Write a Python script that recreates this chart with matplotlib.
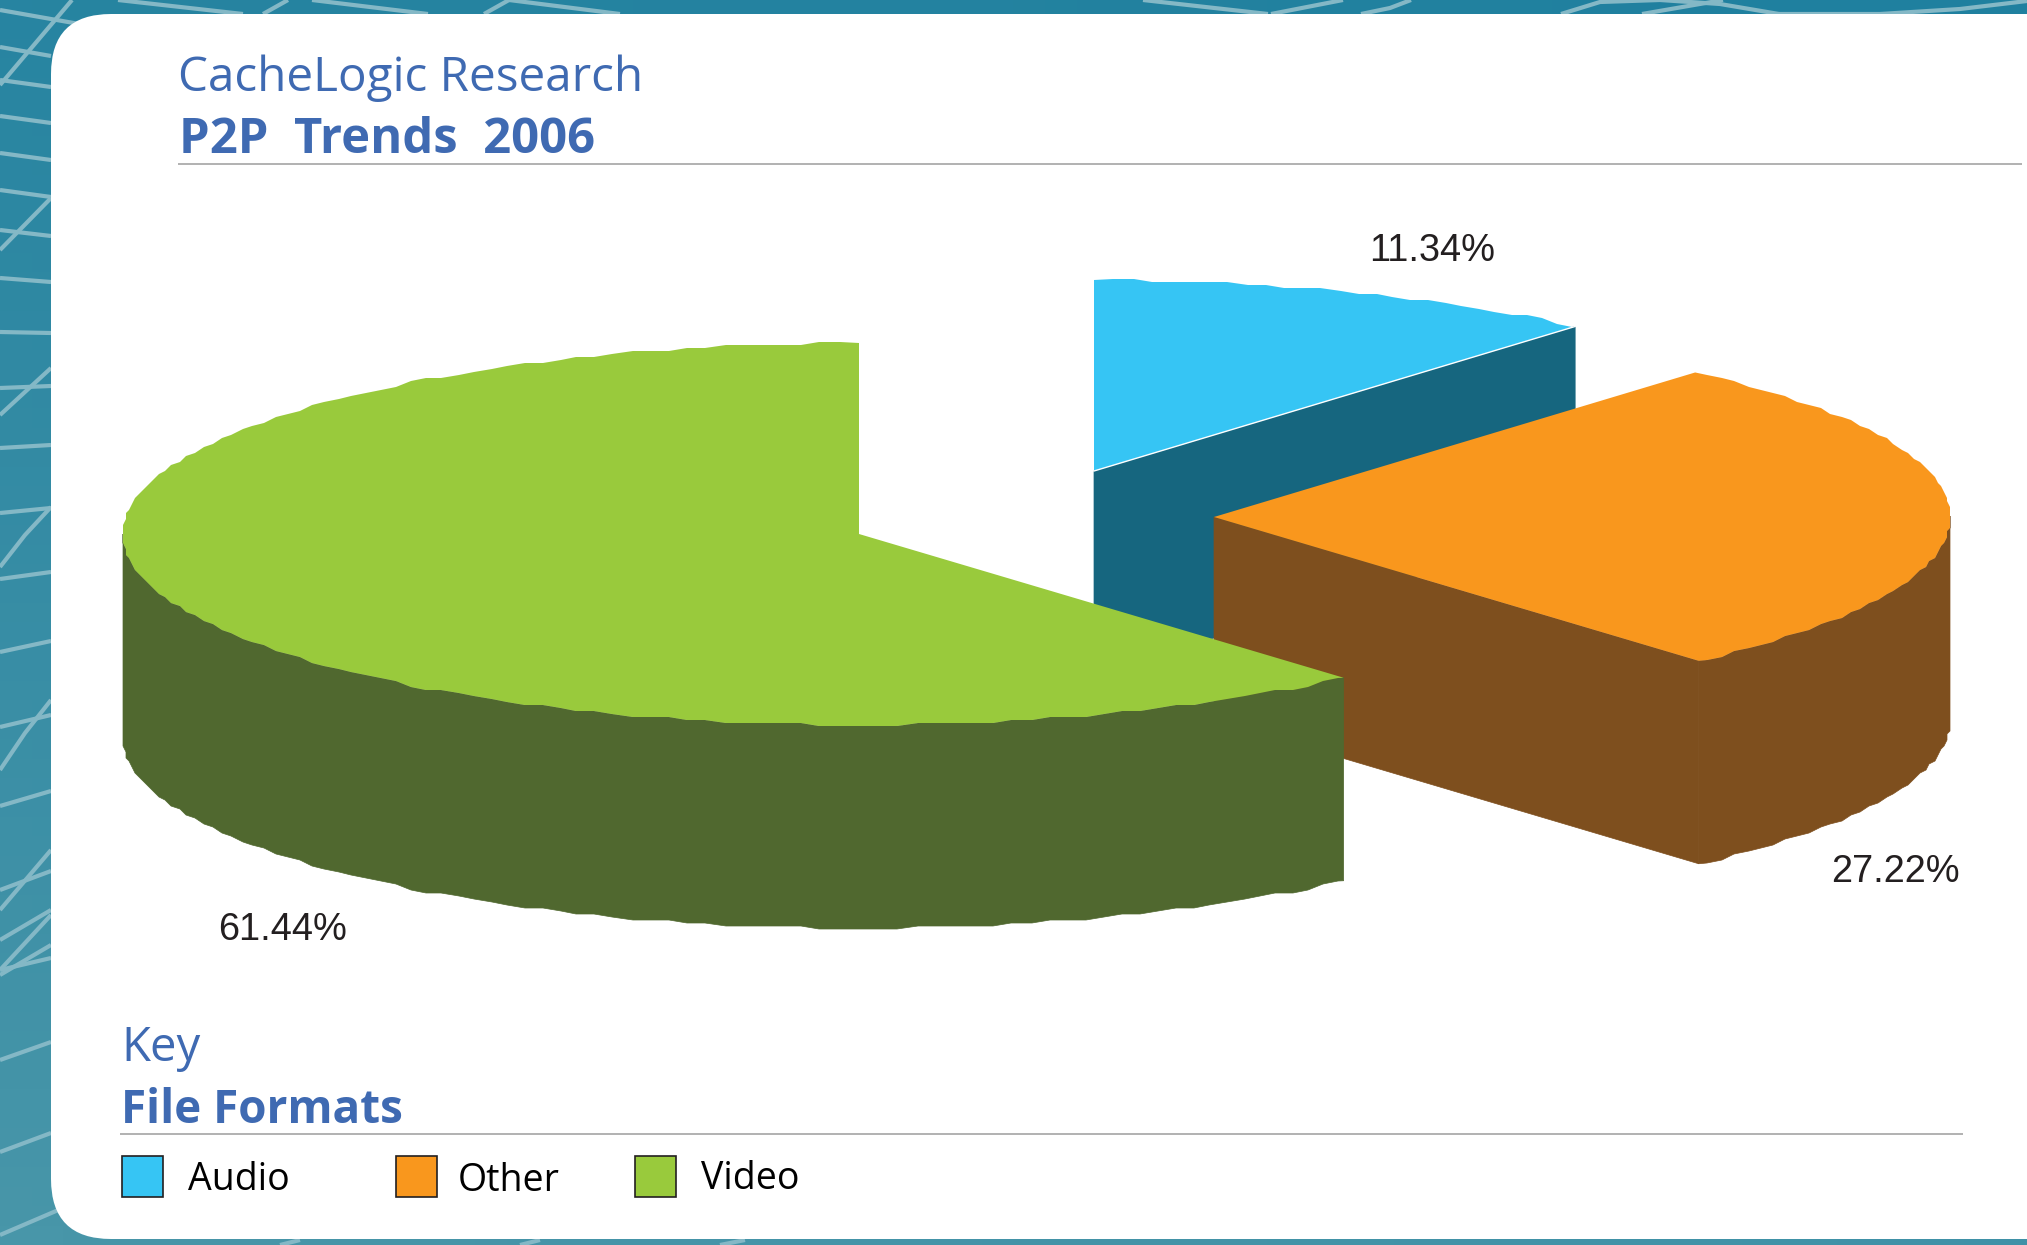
import numpy as np
import matplotlib
matplotlib.use("Agg")
import matplotlib.pyplot as plt
from matplotlib.colors import LinearSegmentedColormap
from matplotlib.patches import FancyBboxPatch, Polygon, Rectangle

W, H = 2027, 1245

categories = ["Audio", "Other", "Video"]
shares = [11.34, 27.22, 61.44]
share_labels = ["11.34%", "27.22%", "61.44%"]

top_colors = ["#36C5F4", "#F9971D", "#99CA3C"]
side_colors = ["#16667F", "#7E4F1E", "#50682F"]

# exploded slice centres, in figure pixels
centers = [(1094, 471), (1214, 517), (859, 534)]
label_pos = [(1369, 261), (1831, 882), (218, 940)]
legend_x = [122, 395.5, 635]
legend_text_x = [188, 458, 701]
legend_text_y = [1190, 1191, 1189]

RX, RY, DEPTH = 736, 191, 203
START_ANGLE = 90.0
BLUE = "#3F6AB2"
TEXT = "#231F20"
LINE = "#84B8C6"
BODY_FONT = "Open Sans"
LABEL_FONT = "Liberation Sans"

# background net: straight strands and a few curved ones
strands = [
    [(0, 10), (85, 25)], [(0, 47), (51, 56)], [(0, 80), (51, 87)],
    [(0, 116), (51, 123)], [(0, 153), (51, 160)], [(0, 190), (51, 197)],
    [(0, 230), (51, 236)], [(0, 278), (51, 282)], [(0, 332), (51, 333)],
    [(0, 388), (51, 386)], [(72, 0), (0, 85)], [(51, 198), (0, 250)],
    [(51, 368), (0, 415)], [(0, 448), (51, 445)], [(0, 513), (51, 508)],
    [(0, 579), (51, 572)], [(0, 652), (51, 641)], [(0, 727), (51, 715)],
    [(0, 806), (51, 791)], [(0, 890), (51, 871)], [(0, 910), (51, 850)],
    [(0, 940), (51, 910)], [(0, 970), (51, 915)], [(0, 975), (51, 945)],
    [(0, 970), (51, 958)], [(0, 1060), (51, 1042)], [(0, 1152), (51, 1133)],
    [(0, 1235), (70, 1205)], [(118, 0), (243, 14)], [(288, 0), (263, 14)],
    [(312, 0), (428, 14)], [(509, 0), (484, 14)], [(509, 0), (620, 14)],
    [(1143, 0), (1268, 14)], [(1343, 0), (1271, 14)], [(1723, 0), (1642, 14)],
    [(280, 1245), (300, 1240)], [(520, 1245), (540, 1240)], [(720, 1245), (745, 1240)],
]
curves = [
    [(0, 567), (25, 535), (51, 507)], [(0, 770), (25, 733), (51, 700)],
    [(1411, 0), (1390, 8), (1361, 14)], [(1561, 14), (1600, 2), (1660, 0), (1720, 4), (1779, 14)],
    [(1779, 14), (1880, 14), (1960, 9), (2027, 1)],
]


def rim(center, t_high, t_low, corners, step=1.5, grid=3.0):
    # ellipse outline on a fixed angle grid, snapped to pixels for the rough edge
    inner = np.arange(np.ceil(t_low / step), np.floor(t_high / step) + 1)[::-1] * step
    t = np.unique(np.concatenate([[t_high], inner, [t_low]]))[::-1]
    x = np.round((center[0] + RX * np.cos(np.radians(t))) / grid) * grid
    y = np.round((center[1] - RY * np.sin(np.radians(t))) / grid) * grid
    # slice corners stay exact
    for k, a in enumerate(t):
        if np.min(np.abs(np.array(corners) - a)) < 1e-6:
            x[k] = center[0] + RX * np.cos(np.radians(a))
            y[k] = center[1] - RY * np.sin(np.radians(a))
    return np.column_stack([x, y])


fig = plt.figure(figsize=(W / 100, H / 100), dpi=100)
ax = fig.add_axes([0, 0, 1, 1])

# teal backdrop, darker towards the top right
yy, xx = np.mgrid[0:1:64j, 0:1:64j]
shade = yy * 0.8 + (1 - xx) * 0.2
cmap = LinearSegmentedColormap.from_list("teal", ["#1F809F", "#4896A9"])
ax.imshow(shade, extent=(0, W, H, 0), cmap=cmap, aspect="auto", zorder=0, vmin=0, vmax=1)
ax.set_xlim(0, W)
ax.set_ylim(H, 0)
ax.axis("off")

for s in strands + curves:
    pts = np.array(s)
    ax.plot(pts[:, 0], pts[:, 1], color=LINE, lw=3, zorder=1, solid_capstyle="butt")

ax.add_patch(FancyBboxPatch((51, 14), 2300, 1225, boxstyle="round,pad=0,rounding_size=60",
                            fc="white", ec="none", zorder=2))

# slices go clockwise from the top, back to front: audio, other, video
angle = START_ANGLE
for i, share in enumerate(shares):
    t0, t1 = angle, angle - share / 100 * 360
    corners = [t0, t1]
    c = centers[i]
    z = 3 + i
    end = (c[0] + RX * np.cos(np.radians(t1)), c[1] - RY * np.sin(np.radians(t1)))

    # flat cut face, seen only when the closing edge lies on the right
    if np.cos(np.radians(t1)) > 1e-6:
        face = [c, end, (end[0], end[1] + DEPTH), (c[0], c[1] + DEPTH)]
        ax.add_patch(Polygon(face, closed=True, fc=side_colors[i], ec=side_colors[i], lw=0.5, zorder=z))

    # curved wall on the front half of the rim
    lo, hi = max(t1, -180.0), min(t0, 0.0)
    if lo < hi:
        upper = rim(c, hi, lo, corners)
        lower = upper[::-1] + [0, DEPTH]
        ax.add_patch(Polygon(np.vstack([upper, lower]), closed=True, fc=side_colors[i],
                             ec=side_colors[i], lw=0.5, zorder=z))

    top = np.vstack([[c], rim(c, t0, t1, corners)])
    ax.add_patch(Polygon(top, closed=True, fc=top_colors[i], ec="none", zorder=z + 0.1))
    if i == 0:
        ax.plot([c[0], end[0]], [c[1], end[1]], color="white", lw=1.0, zorder=z + 0.2)

    ax.text(label_pos[i][0], label_pos[i][1], share_labels[i], family=LABEL_FONT, fontsize=27.4,
            color=TEXT, va="baseline", ha="left", zorder=10)
    angle = t1

# header
ax.text(178, 91, "CacheLogic Research", family=BODY_FONT, fontsize=34.3, color=BLUE, va="baseline", zorder=10)
ax.text(179, 153, "P2P  Trends  2006", family=BODY_FONT, fontsize=35.3, weight="bold", color=BLUE,
        va="baseline", zorder=10)
ax.plot([178, 2022], [164, 164], color="#ABABAB", lw=1.3, zorder=10, solid_capstyle="butt")

# key
ax.text(121, 1061, "Key", family=BODY_FONT, fontsize=34, color=BLUE, va="baseline", zorder=10)
ax.text(121, 1123, "File Formats", family=BODY_FONT, fontsize=33, weight="bold", color=BLUE,
        va="baseline", zorder=10)
ax.plot([120, 1963], [1134, 1134], color="#ABABAB", lw=1.3, zorder=10, solid_capstyle="butt")
for i, name in enumerate(categories):
    ax.add_patch(Rectangle((legend_x[i], 1156), 41, 41, fc=top_colors[i], ec="#231F20", lw=1.2, zorder=10))
    ax.text(legend_text_x[i], legend_text_y[i], name, family=BODY_FONT, fontsize=27, color="black",
            va="baseline", zorder=10)

fig.savefig("out.png", dpi=100)
